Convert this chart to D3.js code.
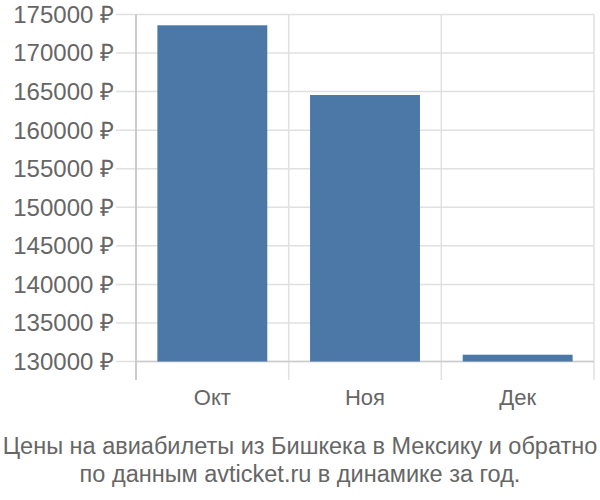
<!DOCTYPE html>
<html><head><meta charset="utf-8">
<script src="https://cdn.jsdelivr.net/npm/d3@7"></script>
<style>body{margin:0;background:#fff}svg{display:block}text{font-family:"Liberation Sans",Arial,sans-serif;fill:#666}</style>
</head><body>
<svg id="c" width="600" height="500"></svg>
<script>
const categories = ["Окт", "Ноя", "Дек"];
const values = [173600, 164560, 130880];
const yTicks = [130000, 135000, 140000, 145000, 150000, 155000, 160000, 165000, 170000, 175000];
const titleLines = ["Цены на авиабилеты из Бишкека в Мексику и обратно", "по данным avticket.ru в динамике за год."];

const svg = d3.select("#c");
const L = 136, R = 594, T = 14.5, B = 361.5;
const x = d3.scaleBand().domain(categories).range([L, R]).paddingInner(0.28).paddingOuter(0.14);
const y = d3.scaleLinear().domain([130000, 175000]).range([B, T]);

// horizontal grid
svg.append("g").selectAll("line").data(yTicks).join("line")
  .attr("x1", L - 20).attr("x2", R).attr("y1", d => y(d)).attr("y2", d => y(d))
  .attr("stroke", "#e0e0e0").attr("stroke-width", 1.5);
// vertical grid
const bounds = categories.map(c => x(c) - x.step() * x.paddingInner() / 2 + x.step());
svg.append("g").selectAll("line").data(bounds).join("line")
  .attr("x1", d => d).attr("x2", d => d).attr("y1", T).attr("y2", 380)
  .attr("stroke", "#e0e0e0").attr("stroke-width", 1.5);
// y axis line
svg.append("line").attr("x1", L).attr("x2", L).attr("y1", T).attr("y2", 380).attr("stroke", "#bbb").attr("stroke-width", 1.5);
// baseline
svg.append("line").attr("x1", L).attr("x2", R).attr("y1", B).attr("y2", B).attr("stroke", "#ccc").attr("stroke-width", 1.5);

// bars
svg.append("g").selectAll("rect").data(values).join("rect")
  .attr("x", (d, i) => x(categories[i])).attr("width", x.bandwidth())
  .attr("y", d => y(d)).attr("height", d => B - y(d))
  .attr("fill", "#4c78a8");

// y labels
svg.append("g").selectAll("text").data(yTicks).join("text")
  .attr("x", 114).attr("y", d => y(d)).attr("dy", "0.35em").attr("text-anchor", "end")
  .style("font-size", "24px").text(d => d + " ₽");
// x labels
svg.append("g").selectAll("text").data(categories).join("text")
  .attr("x", d => x(d) + x.bandwidth() / 2).attr("y", 405).attr("text-anchor", "middle")
  .style("font-size", "22px").text(d => d);
// title
svg.append("g").selectAll("text").data(titleLines).join("text")
  .attr("x", 300).attr("y", (d, i) => 454 + i * 28).attr("text-anchor", "middle")
  .style("font-size", "23.5px").text(d => d);
</script>
</body></html>
